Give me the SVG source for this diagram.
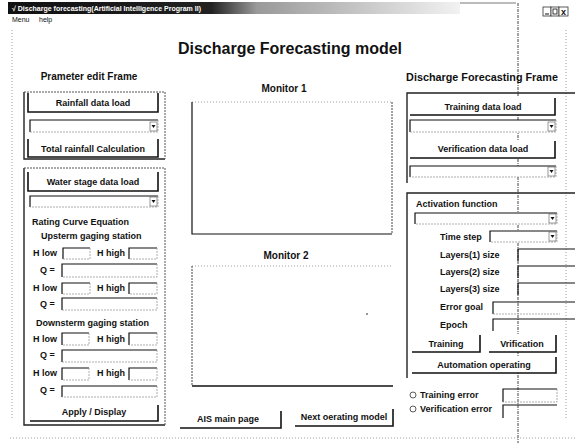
<svg xmlns="http://www.w3.org/2000/svg" width="575" height="443" viewBox="0 0 575 443">
<defs>
<linearGradient id="tb" x1="0" x2="1" y1="0" y2="0">
<stop offset="0" stop-color="#111"/>
<stop offset="0.45" stop-color="#222"/>
<stop offset="0.55" stop-color="#999"/>
<stop offset="1" stop-color="#f2f2f2"/>
</linearGradient>
</defs>
<style>
text{font-family:"Liberation Sans",Arial,sans-serif;fill:#111}
.l{font-size:9px;font-weight:bold}
.c{text-anchor:middle}
.h{font-size:10px;font-weight:bold}
.face{fill:#fff}
.sh{fill:none;stroke:#111;stroke-width:1.6}
.hl{fill:none;stroke:#999;stroke-width:0.8;stroke-dasharray:2 1}
.sk{fill:none;stroke:#111;stroke-width:1.2}
.fr{fill:none;stroke:#222;stroke-width:1.4}
.frd{fill:none;stroke:#555;stroke-width:1;stroke-dasharray:2 1}
.dot{fill:none;stroke:#888;stroke-width:0.8;stroke-dasharray:1 2}
</style>
<rect width="575" height="443" fill="#fff"/>

<g id="window">
<rect x="8" y="2" width="452" height="12" fill="url(#tb)"/>
<line x1="460" y1="3" x2="516" y2="3" stroke="#555" stroke-width="0.8"/>
<text x="12" y="11" style="font-size:7px;font-weight:bold;fill:#fff">√  Discharge forecasting(Artificial Intelligence Program II)</text>
<g id="winbtns">
<rect x="543" y="7" width="8" height="9" fill="#fff" stroke="#333" stroke-width="0.8"/>
<line x1="545" y1="14" x2="549" y2="14" stroke="#111"/>
<rect x="551" y="7" width="8" height="9" fill="#fff" stroke="#333" stroke-width="0.8"/>
<rect x="553" y="9" width="4" height="5" fill="none" stroke="#111" stroke-width="0.8"/>
<rect x="559" y="7" width="9" height="9" fill="#fff" stroke="#333" stroke-width="0.8"/>
<text x="563.5" y="15" class="c" style="font-size:9px;font-weight:bold">x</text>
</g>
<text x="12" y="22" style="font-size:7px">Menu</text>
<text x="39" y="22" style="font-size:7px">help</text>
<line x1="12" y1="30" x2="12" y2="420" class="dot"/>
<line x1="566" y1="30" x2="566" y2="420" class="dot"/>
<line x1="518" y1="3" x2="518" y2="443" stroke="#444" stroke-width="1" stroke-dasharray="3 1 1 1"/>
<line x1="10" y1="438" x2="575" y2="438" class="dot"/>
</g>

<text id="title" x="290" y="54" class="c" style="font-size:16px;font-weight:bold">Discharge Forecasting model</text>

<g id="param-frame">
<text x="89" y="80" class="h c">Prameter edit Frame</text>
<g id="frame1">
<polyline points="24,92 24,159 165,159" class="fr"/>
<polyline points="24,92 165,92 165,159" class="frd"/>
<g id="btn-rainfall"><rect x="28" y="93" width="130" height="19" class="face"/><polyline points="28,93 28,112 158,112 158,93" class="sh"/><text x="93" y="106" class="l c">Rainfall data load</text></g>
<g id="combo1"><rect x="30" y="120" width="128" height="12" class="face"/><polyline points="30,132 30,120 158,120" class="sk"/><polyline points="158,120 158,132 30,132" class="hl"/><rect x="150" y="122" width="7" height="9" fill="#fff" stroke="#555" stroke-width="0.6"/><path d="M151.5 125 h4 l-2 3z" fill="#111"/></g>
<g id="btn-total"><rect x="28" y="139" width="130" height="18" class="face"/><polyline points="28,139 28,157 158,157 158,139" class="sh"/><text x="93" y="152" class="l c">Total rainfall Calculation</text></g>
</g>
<g id="frame2">
<polyline points="24,168 24,425 165,425" class="fr"/>
<polyline points="24,168 165,168 165,425" class="frd"/>
<g id="btn-water"><rect x="28" y="172" width="130" height="19" class="face"/><polyline points="28,172 28,191 158,191 158,172" class="sh"/><text x="93" y="185" class="l c">Water stage data load</text></g>
<g id="combo2"><rect x="30" y="196" width="128" height="11" class="face"/><polyline points="30,207 30,196 158,196" class="sk"/><polyline points="158,196 158,207 30,207" class="hl"/><rect x="150" y="197" width="7" height="9" fill="#fff" stroke="#555" stroke-width="0.6"/><path d="M151.5 200 h4 l-2 3z" fill="#111"/></g>
<text x="32" y="225" class="l">Rating Curve Equation</text>
<text x="41" y="239" class="l">Upsterm gaging station</text>
<text x="33" y="256" class="l">H low</text>
<polyline points="63,259 63,248 90,248" class="sk"/><polyline points="90,248 90,259 63,259" class="hl"/>
<text x="97" y="256" class="l">H high</text>
<polyline points="129,259 129,248 157,248" class="sk"/><polyline points="157,248 157,259 129,259" class="hl"/>
<text x="40" y="273" class="l">Q =</text>
<polyline points="62,277 62,264 157,264" class="sk"/><polyline points="157,264 157,277 62,277" class="hl"/>
<text x="33" y="291" class="l">H low</text>
<polyline points="62,294 62,283 90,283" class="sk"/><polyline points="90,283 90,294 62,294" class="hl"/>
<text x="97" y="291" class="l">H high</text>
<polyline points="129,294 129,283 157,283" class="sk"/><polyline points="157,283 157,294 129,294" class="hl"/>
<text x="40" y="307" class="l">Q =</text>
<polyline points="62,310 62,298 157,298" class="sk"/><polyline points="157,298 157,310 62,310" class="hl"/>
<text x="36" y="326" class="l">Downsterm gaging station</text>
<text x="33" y="342" class="l">H low</text>
<polyline points="62,345 62,333 89,333" class="sk"/><polyline points="89,333 89,345 62,345" class="hl"/>
<text x="97" y="342" class="l">H high</text>
<polyline points="129,345 129,333 157,333" class="sk"/><polyline points="157,333 157,345 129,345" class="hl"/>
<text x="40" y="358" class="l">Q =</text>
<polyline points="62,362 62,350 157,350" class="sk"/><polyline points="157,350 157,362 62,362" class="hl"/>
<text x="33" y="376" class="l">H low</text>
<polyline points="62,380 62,368 89,368" class="sk"/><polyline points="89,368 89,380 62,380" class="hl"/>
<text x="97" y="376" class="l">H high</text>
<polyline points="129,380 129,368 157,368" class="sk"/><polyline points="157,368 157,380 129,380" class="hl"/>
<text x="40" y="393" class="l">Q =</text>
<polyline points="62,397 62,386 157,386" class="sk"/><polyline points="157,386 157,397 62,397" class="hl"/>
<g id="btn-apply"><rect x="30" y="403" width="128" height="18" class="face"/><polyline points="30,421 158,421 158,405" class="sh"/><text x="94" y="415" class="l c">Apply / Display</text></g>
</g>
</g>

<g id="monitor1">
<text x="284" y="92" class="h c">Monitor 1</text>
<polyline points="192,102 392,102" class="dot"/>
<polyline points="192,102 192,234 392,234" fill="none" stroke="#111" stroke-width="1.2"/>
<line x1="392" y1="102" x2="392" y2="234" stroke="#444" stroke-width="1" stroke-dasharray="2 1"/>
</g>
<g id="monitor2">
<text x="286" y="259" class="h c">Monitor 2</text>
<polyline points="192,266 392,266" class="dot"/>
<line x1="192" y1="266" x2="192" y2="386" stroke="#444" stroke-width="1" stroke-dasharray="2 1"/>
<line x1="192" y1="386" x2="393" y2="386" stroke="#111" stroke-width="1.4"/>
<circle cx="367" cy="314" r="0.8" fill="#111"/>
</g>

<g id="btn-ais"><rect x="180" y="410" width="101" height="18" class="face"/><polyline points="180,428 281,428 281,411" class="sh"/><text x="228" y="422" class="l c">AIS main page</text></g>
<g id="btn-next"><rect x="292" y="409" width="101" height="18" class="face"/><polyline points="295,426 393,426 393,409" class="sh"/><text x="344" y="420" class="l c">Next oerating model</text></g>

<g id="forecast-frame">
<text x="482" y="81" style="font-size:10.8px;font-weight:bold" class="c">Discharge Forecasting Frame</text>
<g id="frame3">
<polyline points="407,183 407,93 575,93" class="fr"/>
<g id="btn-training-load"><rect x="410" y="96" width="145" height="19" class="face"/><polyline points="410,115 555,115 555,98" class="sh"/><text x="483" y="110" class="l c">Training data load</text></g>
<g id="combo3"><rect x="410" y="120" width="146" height="12" class="face"/><polyline points="410,132 410,120 556,120" class="sk"/><polyline points="556,120 556,132 410,132" class="hl"/><rect x="548" y="122" width="7" height="9" fill="#fff" stroke="#555" stroke-width="0.6"/><path d="M549.5 125 h4 l-2 3z" fill="#111"/></g>
<g id="btn-verif-load"><rect x="410" y="140" width="145" height="18" class="face"/><polyline points="410,158 555,158 555,141" class="sh"/><text x="483" y="152" class="l c">Verification data load</text></g>
<g id="combo4"><rect x="410" y="166" width="146" height="11" class="face"/><polyline points="410,177 410,166 556,166" class="sk"/><polyline points="556,166 556,177 410,177" class="hl"/><rect x="548" y="167" width="7" height="9" fill="#fff" stroke="#555" stroke-width="0.6"/><path d="M549.5 170 h4 l-2 3z" fill="#111"/></g>
</g>
<g id="frame4">
<polyline points="407,378 407,193 575,193" class="fr"/>
<text x="416" y="207" class="l">Activation function</text>
<g id="combo5"><rect x="415" y="213" width="142" height="11" class="face"/><polyline points="415,224 415,213 557,213" class="sk"/><polyline points="557,213 557,224 415,224" class="hl"/><rect x="549" y="214" width="7" height="9" fill="#fff" stroke="#555" stroke-width="0.6"/><path d="M550.5 217 h4 l-2 3z" fill="#111"/></g>
<text x="440" y="240" class="l">Time step</text>
<g id="combo6"><rect x="490" y="231" width="67" height="11" class="face"/><polyline points="490,242 490,231 557,231" class="sk"/><polyline points="557,231 557,242 490,242" class="hl"/><rect x="549" y="232" width="7" height="9" fill="#fff" stroke="#555" stroke-width="0.6"/><path d="M550.5 235 h4 l-2 3z" fill="#111"/></g>
<text x="440" y="258" class="l">Layers(1) size</text>
<polyline points="518,261 518,249 575,249" class="sk"/>
<text x="440" y="275" class="l">Layers(2) size</text>
<polyline points="518,278 518,266 575,266" class="sk"/>
<text x="440" y="292" class="l">Layers(3) size</text>
<polyline points="518,295 518,283 575,283" class="sk"/>
<text x="440" y="310" class="l">Error goal</text>
<polyline points="493,314 493,302 575,302" class="sk"/><line x1="493" y1="314" x2="560" y2="314" class="hl"/>
<text x="440" y="328" class="l">Epoch</text>
<polyline points="493,331 493,319 575,319" class="sk"/>
<g id="btn-training"><rect x="412" y="334" width="68" height="18" class="face"/><polyline points="412,352 480,352 480,335" class="sh"/><text x="446" y="347" class="l c">Training</text></g>
<g id="btn-verif"><rect x="489" y="334" width="67" height="18" class="face"/><polyline points="489,352 556,352 556,335" class="sh"/><text x="522" y="347" class="l c">Vrification</text></g>
<g id="btn-auto"><rect x="412" y="356" width="144" height="17" class="face"/><polyline points="412,373 556,373 556,357" class="sh"/><text x="484" y="368" class="l c">Automation operating</text></g>
</g>
<g id="radio-training"><circle cx="413" cy="395" r="3" fill="#fff" stroke="#333" stroke-width="0.8"/><text x="420" y="398" class="l">Training error</text>
<polyline points="503,402 503,389 557,389" class="sk"/><polyline points="557,389 557,402 503,402" class="hl"/></g>
<g id="radio-verif"><circle cx="413" cy="409" r="3" fill="#fff" stroke="#333" stroke-width="0.8"/><text x="420" y="412" class="l">Verification error</text>
<polyline points="503,418 503,405 557,405" class="sk"/></g>
</g>
</svg>
